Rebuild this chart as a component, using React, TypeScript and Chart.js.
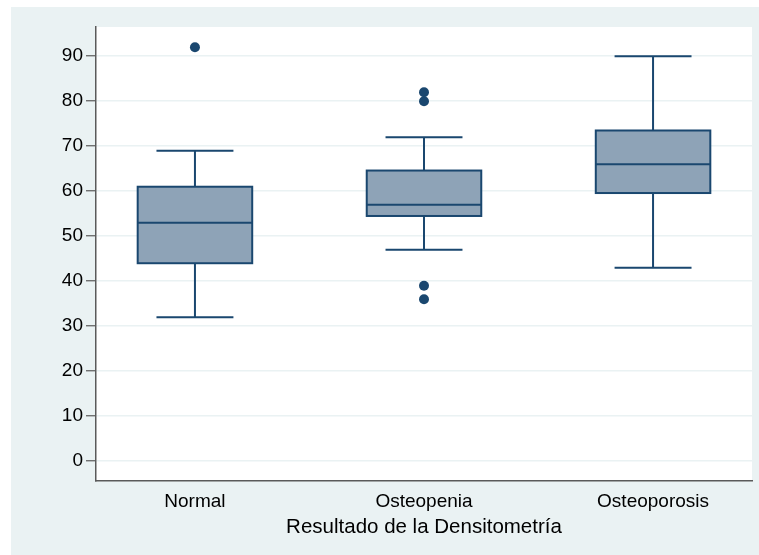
import React, { useEffect, useRef } from "react";
import { Chart, registerables } from "chart.js";
Chart.register(...registerables);

const categories = ["Normal", "Osteopenia", "Osteoporosis"];
const whiskerLow = [32, 47, 43];
const q1 = [44, 54.5, 59.6];
const median = [53, 57, 66];
const q3 = [61, 64.6, 73.5];
const whiskerHigh = [69, 72, 90];
const outlierGroup = [1, 2, 2, 2, 2];
const outlierValues = [92, 82, 80, 39, 36];
const yTicks = [0, 10, 20, 30, 40, 50, 60, 70, 80, 90];
const xTitle = "Resultado de la Densitometría";

const NAVY = "#1a476f";
const BOX_FILL = "#8ea3b7";
const BG = "#eaf2f3";
const FONT = "'Liberation Sans', Arial, sans-serif";

const bgPlugin = {
  id: "bgPlugin",
  beforeDraw(chart: any) {
    const { ctx, chartArea: a } = chart;
    ctx.save();
    ctx.fillStyle = BG;
    ctx.fillRect(11, 7, chart.width - 11, chart.height - 7);
    ctx.fillStyle = "#ffffff";
    ctx.fillRect(a.left, a.top, a.right - a.left, a.bottom - a.top);
    ctx.restore();
  },
};

const boxPlugin = {
  id: "boxPlugin",
  beforeDatasetsDraw(chart: any) {
    const { ctx } = chart;
    const xs = chart.scales.x;
    const ys = chart.scales.y;
    ctx.save();
    ctx.strokeStyle = NAVY;
    ctx.lineWidth = 2;
    categories.forEach((_, i) => {
      const c = i + 1;
      const l = xs.getPixelForValue(c - 0.25);
      const r = xs.getPixelForValue(c + 0.25);
      const cl = xs.getPixelForValue(c - 0.168);
      const cr = xs.getPixelForValue(c + 0.168);
      const cx = xs.getPixelForValue(c);
      const yTop = ys.getPixelForValue(q3[i]);
      const yBot = ys.getPixelForValue(q1[i]);
      const yMed = ys.getPixelForValue(median[i]);
      const yHi = ys.getPixelForValue(whiskerHigh[i]);
      const yLo = ys.getPixelForValue(whiskerLow[i]);
      ctx.beginPath();
      ctx.moveTo(cx, yTop);
      ctx.lineTo(cx, yHi);
      ctx.moveTo(cl, yHi);
      ctx.lineTo(cr, yHi);
      ctx.moveTo(cx, yBot);
      ctx.lineTo(cx, yLo);
      ctx.moveTo(cl, yLo);
      ctx.lineTo(cr, yLo);
      ctx.stroke();
      ctx.fillStyle = BOX_FILL;
      ctx.fillRect(l, yTop, r - l, yBot - yTop);
      ctx.strokeRect(l, yTop, r - l, yBot - yTop);
      ctx.beginPath();
      ctx.moveTo(l, yMed);
      ctx.lineTo(r, yMed);
      ctx.stroke();
    });
    ctx.restore();
  },
};

export default function App() {
  const ref = useRef<HTMLCanvasElement | null>(null);
  useEffect(() => {
    if (!ref.current) return;
    const chart = new Chart(ref.current, {
      type: "scatter",
      data: {
        datasets: [
          {
            data: outlierValues.map((v, i) => ({ x: outlierGroup[i], y: v })),
            pointRadius: 5,
            pointBackgroundColor: NAVY,
            pointBorderColor: NAVY,
            pointBorderWidth: 0,
          },
        ],
      },
      options: {
        animation: false,
        responsive: false,
        layout: { padding: { top: 27, right: 7, left: 0, bottom: 0 } },
        plugins: { legend: { display: false }, tooltip: { enabled: false } },
        scales: {
          x: {
            type: "linear",
            min: 0.568,
            max: 3.432,
            afterFit: (s: any) => {
              s.height = 74;
            },
            afterBuildTicks: (s: any) => {
              s.ticks = categories.map((_, i) => ({ value: i + 1 }));
            },
            grid: { display: false },
            border: { display: true, color: "#5a5a5a", width: 1.5 },
            ticks: {
              autoSkip: false,
              maxRotation: 0,
              padding: 1,
              color: "#000",
              font: { family: FONT, size: 19 },
              callback: (v: any) => categories[Math.round(v) - 1] ?? "",
            },
            title: {
              display: true,
              text: xTitle,
              color: "#000",
              font: { family: FONT, size: 20.5 },
              padding: { top: 0, bottom: 15 },
            },
          },
          y: {
            min: -4.4,
            max: 96.5,
            afterFit: (s: any) => {
              s.width = 96;
            },
            afterBuildTicks: (s: any) => {
              s.ticks = yTicks.map((v) => ({ value: v }));
            },
            grid: {
              color: BG,
              lineWidth: 1.5,
              tickLength: 10,
              tickColor: "#5a5a5a",
              tickWidth: 1.2,
            },
            border: { display: true, color: "#5a5a5a", width: 1.5 },
            ticks: {
              padding: 3,
              color: "#000",
              font: { family: FONT, size: 19 },
            },
          },
        },
      },
      plugins: [bgPlugin, boxPlugin],
    });
    return () => chart.destroy();
  }, []);
  return (
    <div style={{ position: "fixed", left: 0, top: 0, width: 759, height: 555 }}>
      <canvas ref={ref} width={759} height={555} />
    </div>
  );
}
